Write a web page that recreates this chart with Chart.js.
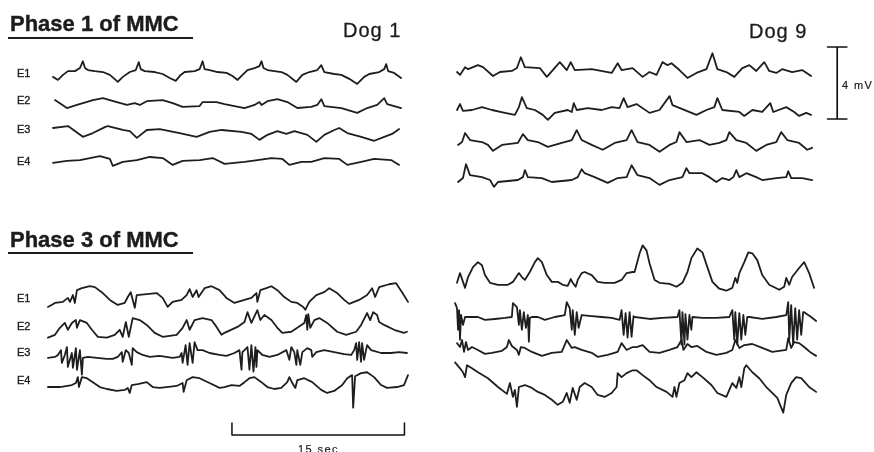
<!DOCTYPE html>
<html>
<head>
<meta charset="utf-8">
<script src="https://cdn.jsdelivr.net/npm/chart.js@4"></script>
<style>
  html, body { margin: 0; padding: 0; background: #fff; }
  #wrap { position: relative; width: 874px; height: 452px; overflow: hidden; font-family: "Liberation Sans", Arial, sans-serif; color: #1c1c1c; }
  #wrap canvas { position: absolute; left: 0; top: 0; }
  .lbl { position: absolute; white-space: nowrap; line-height: 1; }
  .title { font-size: 22px; font-weight: bold; -webkit-text-stroke: 0.4px #1c1c1c; }
  .dog { font-size: 20px; letter-spacing: 1px; -webkit-text-stroke: 0.3px #1c1c1c; }
  .ch { font-size: 11px; -webkit-text-stroke: 0.35px #1c1c1c; }
  .unit { font-size: 11px; letter-spacing: 1.4px; -webkit-text-stroke: 0.2px #1c1c1c; }
  .rule { position: absolute; height: 2px; background: #1c1c1c; }
</style>
</head>
<body>
<div id="wrap">
  <canvas id="chart" width="874" height="452"></canvas>
</div>
<script>
// channel names and scale-bar values
const channels = ["E1", "E2", "E3", "E4"];
const panelTitles = ["Phase 1 of MMC", "Phase 3 of MMC"];
const dogs = ["Dog 1", "Dog 9"];
const barMv = 4;
const barSec = 15;

// traces: [time (s), voltage (mV) relative to channel baseline]
// Dog 1, phase 1
const d1p1e1 = [[0,-0.27],[0.43,-0.44],[0.87,-0.16],[1.3,0.05],[1.91,0.05],[2.34,0.22],[2.6,0.6],[2.78,0.22],[3.04,0.11],[3.64,0.05],[4.34,0],[4.94,-0.16],[5.64,-0.55],[6.07,-0.27],[6.68,0],[7.2,0.11],[7.46,0.55],[7.63,0.16],[7.98,0.05],[8.85,0],[9.54,-0.11],[10.15,-0.33],[10.67,-0.49],[11.1,-0.16],[11.45,0],[12.32,0.05],[12.75,0.16],[13.01,0.6],[13.18,0.16],[13.62,0.11],[14.31,0],[15.09,-0.05],[15.61,-0.22],[16.05,-0.44],[16.48,-0.16],[16.91,0.11],[17.52,0.22],[17.95,0.33],[18.13,0.6],[18.3,0.22],[18.65,0.11],[19.86,0],[20.38,-0.16],[21.16,-0.55],[21.68,-0.16],[22.29,0],[22.98,0.11],[23.33,0.38],[23.59,0],[24.46,-0.11],[25.07,-0.16],[25.76,-0.38],[26.45,-0.66],[27.06,-0.27],[27.5,-0.11],[28.37,0],[28.8,0.16],[28.97,0.44],[29.14,0.05],[29.66,-0.05],[30.27,-0.33]];
const d1p1e2 = [[0.17,0.22],[1.21,-0.22],[2.08,-0.05],[2.6,0.05],[3.47,0.22],[4.34,0.33],[5.55,0.11],[6.42,-0.05],[7.11,0.05],[7.55,-0.05],[8.15,0.16],[9.54,0.22],[10.41,0.05],[11.27,-0.16],[12.75,-0.11],[13.01,0.11],[14.22,0.11],[14.92,0],[16.65,-0.22],[17.52,-0.05],[17.95,0.11],[18.13,-0.05],[18.65,0.16],[19.51,0.27],[20.38,0.11],[21.25,-0.22],[22.46,-0.16],[22.98,-0.05],[23.33,0.27],[23.59,-0.11],[25.07,-0.22],[26.45,-0.49],[27.32,-0.22],[28.19,-0.05],[28.8,0.33],[29.06,0],[30.27,-0.22]];
const d1p1e3 = [[0,0.33],[1.3,0.44],[2.6,-0.16],[3.47,0.05],[4.51,0.38],[4.77,0.44],[6.07,0.22],[6.68,0.16],[7.29,-0.22],[8.15,0.22],[9.28,0.27],[11.01,0.05],[12.49,-0.16],[13.62,0.11],[14.66,0.22],[16.39,0.11],[17.26,0],[17.95,-0.33],[18.65,-0.05],[19.51,0.16],[20.29,0],[20.99,0.16],[22.12,-0.05],[22.9,-0.44],[23.59,-0.05],[24.46,0.22],[24.89,0.33],[25.59,0.05],[26.8,-0.16],[27.93,-0.38],[28.8,-0.16],[29.49,0],[30.1,0.27]];
const d1p1e4 = [[0,-0.11],[1.21,0],[2.34,0.05],[3.21,0.16],[4.08,0.27],[4.94,0.11],[5.2,-0.27],[6.07,-0.05],[7.29,0.05],[8.41,0.22],[9.54,0.16],[10.41,-0.22],[11.27,0],[12.75,0.05],[13.88,0.16],[14.92,-0.16],[16.65,-0.05],[17.78,0.05],[18.99,0.16],[19.95,0.11],[20.55,-0.22],[21.6,-0.05],[22.46,-0.05],[23.59,0.16],[24.89,0.11],[25.59,-0.22],[26.8,-0.05],[27.93,0.11],[29.4,0.05],[30.1,-0.22]];

// Dog 9, phase 1
const d9p1e1 = [[0.17,-0.11],[0.43,-0.27],[0.87,0.16],[1.13,0.05],[1.99,0.27],[2.43,0.16],[3.3,-0.33],[3.9,-0.11],[4.94,-0.05],[5.38,0.11],[5.72,0.71],[6.07,0.16],[7.37,0.11],[7.98,-0.38],[8.5,0],[9.11,0.44],[9.71,0],[10.06,0.44],[10.41,0],[11.88,0.05],[13.27,-0.11],[13.62,-0.16],[14.14,0.38],[14.48,0],[15.44,0.11],[16.31,-0.38],[16.91,-0.11],[17.52,-0.27],[18.04,0.44],[18.47,0.27],[18.82,0.38],[19.51,0],[20.21,-0.44],[20.99,-0.16],[21.86,0.05],[22.38,0.93],[22.81,0.05],[23.59,-0.11],[24.28,-0.38],[24.98,0.11],[25.59,0.27],[26.19,-0.05],[26.89,0.44],[27.32,-0.05],[27.93,-0.16],[28.45,0.05],[29.31,-0.11],[30.18,0],[30.96,-0.33]];
const d9p1e2 = [[0.17,0],[0.43,0.33],[0.69,-0.05],[1.47,0],[2.34,0.16],[3.21,0],[4.34,-0.16],[5.2,-0.27],[5.55,0.16],[5.81,0.71],[6.24,0.11],[6.94,0],[7.63,-0.27],[8.07,-0.55],[8.67,-0.16],[9.8,0],[10.15,-0.11],[10.32,0.38],[10.58,0],[11.54,0.11],[12.75,0],[13.62,0.16],[14.31,0.11],[14.66,0.66],[15,0.16],[15.78,0.33],[16.91,-0.16],[17.78,0],[18.65,0.77],[18.91,0.27],[19.77,0.05],[20.99,-0.27],[21.86,0],[22.55,0.16],[22.81,0.66],[23.24,0],[24.72,-0.11],[25.15,-0.33],[25.85,0],[26.71,-0.11],[27.41,0.38],[27.67,-0.11],[28.8,0.16],[29.49,-0.11],[29.92,-0.33],[30.53,-0.16],[30.96,-0.27]];
const d9p1e3 = [[0.26,-0.11],[0.61,0.05],[0.87,0.55],[1.3,0.16],[2.34,0.05],[2.86,-0.11],[3.3,-0.44],[4.08,-0.11],[5.46,0],[5.9,0.49],[6.33,0.16],[7.2,0.05],[8.07,-0.22],[9.28,0],[10.15,0.16],[10.58,0.71],[11.01,0.16],[11.88,-0.11],[12.84,-0.38],[13.88,0],[14.92,0.16],[15.35,0.71],[15.87,0.05],[16.91,-0.11],[17.78,-0.49],[18.65,-0.11],[19.25,0.05],[19.51,0.6],[20.12,0.05],[21.25,0.16],[22.12,-0.11],[22.98,0],[23.59,0.16],[23.85,0.6],[24.46,0.16],[25.33,0],[26.19,-0.44],[27.06,-0.11],[27.93,0.05],[28.36,0.6],[28.89,0.16],[29.92,0],[30.62,-0.38],[31.05,-0.27]];
const d9p1e4 = [[0.26,-0.22],[0.69,0],[0.95,0.77],[1.3,0.16],[2.34,0.05],[3.04,-0.11],[3.38,-0.49],[3.73,-0.22],[5.46,-0.11],[5.9,0.05],[6.07,0.44],[6.33,0.05],[7.55,0],[8.41,-0.22],[10.15,-0.11],[10.67,0.05],[11.01,0.49],[11.27,0.27],[12.14,0.05],[13.27,-0.27],[14.14,0],[14.92,0.05],[15.35,0.71],[15.87,0.16],[16.91,0],[17.78,-0.38],[18.65,-0.11],[19.77,0.05],[20.12,0.55],[20.38,0.27],[21.51,0.27],[22.12,0.05],[22.72,-0.22],[23.24,0],[23.85,-0.11],[24.2,0.05],[24.46,0.44],[24.72,0.05],[25.33,0.27],[26.19,0.05],[26.71,-0.11],[27.93,0],[28.8,0.05],[28.97,0.38],[29.23,0],[30.18,0],[31.05,-0.11]];

// Dog 1, phase 3
const d1p3e1 = [[0,-0.66],[0.61,-0.44],[1.3,-0.38],[1.73,-0.16],[1.91,-0.38],[2.17,0],[2.34,-0.44],[2.52,0.27],[2.95,0.38],[3.64,0.49],[4.08,0.44],[4.77,0.11],[5.38,-0.27],[6.07,-0.55],[6.68,-0.44],[6.94,-0.11],[7.2,0.16],[7.55,-0.71],[7.72,0],[8.59,0.05],[9.45,0.11],[9.97,-0.16],[10.41,-0.66],[10.84,-0.38],[11.62,-0.27],[12.06,0],[12.32,0.33],[12.58,-0.11],[12.92,0.27],[13.1,-0.11],[13.62,0.38],[14.22,0.49],[14.92,0.27],[15.52,-0.16],[16.22,-0.44],[17.09,-0.27],[17.69,-0.16],[18.13,0.11],[18.21,-0.38],[18.47,0.27],[18.99,0.38],[19.43,0.49],[19.95,0.27],[20.55,-0.11],[21.16,-0.38],[21.68,-0.44],[22.2,-0.66],[22.38,-0.82],[22.72,-0.38],[23.33,0],[24.02,0.16],[24.46,0.38],[25.15,0.11],[25.76,-0.27],[26.19,-0.49],[27.06,-0.27],[27.75,0],[28.19,0.38],[28.45,-0.11],[28.8,0.44],[29.66,0.6],[30.27,0.66],[30.79,0.16],[31.31,-0.38]];
const d1p3e2 = [[0,-0.71],[0.61,-0.55],[1.04,-0.16],[1.47,0.11],[1.73,-0.27],[2.08,0.11],[2.43,0.27],[2.52,-0.16],[2.78,0.27],[3.38,0.11],[3.82,-0.27],[4.34,-0.66],[5.12,-0.71],[5.81,-0.55],[6.24,-0.27],[6.5,-0.66],[6.77,0.16],[7.03,-0.66],[7.37,0.38],[7.98,0.27],[8.59,0],[9.28,-0.44],[9.97,-0.66],[11.19,-0.55],[11.71,-0.16],[12.06,0.27],[12.32,-0.27],[12.75,0.27],[13.44,0.38],[14.22,0.27],[14.66,-0.11],[15.09,-0.55],[15.35,-0.44],[16.48,-0.11],[17.09,0.16],[17.35,0.71],[17.69,0.11],[18.21,0.82],[18.47,0.27],[18.82,0.55],[19.43,0.27],[19.95,-0.16],[20.38,-0.44],[21.16,-0.38],[21.68,-0.16],[22.29,0.11],[22.46,0.55],[22.55,-0.27],[22.64,0.6],[22.81,-0.16],[23.16,0.27],[23.59,0.38],[24.28,0.11],[25.15,-0.38],[25.93,-0.55],[26.8,-0.38],[27.23,0],[27.75,0.66],[28.02,0.27],[28.28,0.71],[28.62,0.55],[28.8,0.16],[29.23,0],[30.1,-0.27],[30.96,-0.44],[31.22,-0.38]];
const d1p3e3 = [[0,-0.16],[0.61,-0.11],[0.87,0],[1.13,0.27],[1.21,-0.44],[1.47,0],[1.65,0.44],[1.73,-0.66],[2.08,0.11],[2.17,-0.71],[2.43,0.38],[2.52,-0.82],[2.78,0.27],[2.95,-1.1],[3.04,-0.16],[3.47,-0.11],[4.25,-0.16],[5.12,-0.22],[5.64,-0.22],[6.07,-0.11],[6.42,0.16],[6.5,-0.38],[6.77,0.27],[7.03,0.11],[7.29,-0.55],[7.37,0.38],[7.72,0.16],[8.24,0],[8.85,-0.11],[9.71,-0.05],[10.84,-0.16],[11.45,-0.11],[11.62,0.11],[11.71,-0.44],[11.97,0.55],[12.14,-0.55],[12.32,0.66],[12.58,-0.44],[12.75,0.71],[13.01,0.27],[13.44,0.27],[14.05,0.11],[14.92,0],[15.52,-0.05],[16.22,0.11],[16.65,0.27],[16.83,-0.82],[16.91,0.16],[17.35,0.44],[17.52,-0.82],[17.69,0.55],[17.87,-0.93],[18.04,0.44],[18.13,-0.66],[18.21,0.27],[18.65,0],[19.25,-0.11],[19.95,0],[20.73,0.27],[20.99,-0.27],[21.16,0.44],[21.42,0.16],[21.6,-0.55],[21.68,0.27],[21.94,-0.55],[22.12,0.16],[22.55,0.38],[22.9,0.27],[22.98,-0.11],[23.33,0.16],[24.02,0.27],[24.89,0.16],[25.76,0.05],[26.37,0],[26.63,0.27],[26.8,0.66],[26.89,-0.27],[27.06,0.71],[27.23,-0.38],[27.32,0.66],[27.49,-0.27],[27.75,0.55],[28.1,0.27],[28.97,0.11],[29.83,0.11],[30.53,0.16],[31.22,0.11]];
const d1p3e4 = [[0,-0.11],[1.04,-0.11],[2.08,0],[2.43,0.11],[2.6,0.44],[2.69,-0.11],[2.95,0.44],[3.38,0.38],[3.9,0.16],[4.51,-0.11],[5.12,-0.22],[5.98,-0.33],[6.68,-0.27],[6.94,-0.16],[7.11,-0.44],[7.29,0],[7.81,0.05],[8.59,0.16],[9.11,-0.11],[9.71,-0.16],[10.32,-0.11],[11.19,-0.05],[11.71,0.11],[11.8,-0.38],[12.06,0.27],[12.58,0.44],[13.18,0.38],[14.05,0.11],[14.92,-0.16],[15.35,-0.11],[15.96,0],[16.65,-0.05],[17.09,0.16],[17.52,0.38],[17.95,0.44],[18.56,0.16],[19.08,-0.11],[19.69,-0.22],[20.29,-0.16],[20.81,0.16],[20.99,0.44],[21.25,0.11],[21.51,-0.16],[21.68,0.27],[22.29,0.38],[22.98,0.16],[23.76,-0.27],[24.28,-0.44],[24.89,-0.33],[25.59,0],[26.02,0.38],[26.45,0.55],[26.54,-1.26],[26.71,0.49],[27.23,0.66],[27.75,0.71],[28.36,0.44],[28.97,0],[29.49,-0.16],[30.36,-0.11],[30.96,0],[31.31,0.55]];

// Dog 9, phase 3
const d9p3e1 = [[0.17,-0.16],[0.43,0.38],[0.69,-0.11],[0.87,-0.44],[1.13,0.16],[1.56,0.71],[1.99,0.99],[2.34,0.82],[2.6,0.27],[3.04,-0.16],[3.73,-0.27],[4.6,-0.27],[5.03,-0.11],[5.55,0.38],[5.81,0.16],[6.07,0],[6.5,0.44],[6.94,0.99],[7.2,1.21],[7.55,0.99],[7.98,0.27],[8.41,-0.11],[8.93,-0.11],[9.37,-0.27],[9.8,-0.33],[10.06,0.05],[10.23,-0.16],[10.49,-0.38],[10.67,0],[11.01,0.38],[11.27,0.44],[11.88,0.27],[12.4,-0.11],[13.01,-0.16],[13.88,-0.16],[14.48,0],[14.92,0.38],[15.44,0.44],[15.61,0.44],[16.05,1.48],[16.31,1.92],[16.65,1.64],[16.91,0.93],[17.35,0],[17.78,-0.16],[18.65,-0.22],[19.25,-0.38],[19.77,-0.16],[20.21,0.44],[20.55,1.21],[21.07,1.75],[21.51,1.53],[21.94,0.71],[22.38,-0.11],[22.98,-0.49],[23.59,-0.6],[24.11,-0.44],[24.37,0.11],[24.54,-0.16],[24.72,0.38],[25.15,0.99],[25.5,1.53],[25.85,1.48],[26.28,1.1],[26.71,0.27],[27.32,-0.27],[28.19,-0.55],[28.62,-0.38],[28.8,0.11],[29.06,-0.27],[29.31,0.16],[29.92,0.66],[30.36,0.99],[30.79,0.38],[31.22,-0.44]];
const d9p3e2 = [[0,0.77],[0.17,0.49],[0.26,-0.71],[0.35,0.38],[0.43,-1.26],[0.52,0.11],[0.69,-0.44],[0.87,0],[1.13,0],[1.99,0],[2.6,-0.16],[3.47,-0.11],[4.34,-0.05],[4.94,0],[5.03,0.77],[5.38,0.55],[5.55,-0.44],[5.64,0.38],[5.81,-0.71],[5.98,0.27],[6.16,-0.6],[6.33,0.11],[6.42,-1.37],[6.5,-0.05],[6.68,0],[7.2,0],[7.81,-0.16],[8.67,0],[9.54,0.11],[9.71,0.82],[9.97,0.49],[10.15,-0.71],[10.23,0.38],[10.41,-0.99],[10.58,0.27],[10.75,-0.6],[11.01,0.11],[11.88,0.05],[12.75,0],[13.62,-0.05],[14.31,-0.16],[14.48,0.38],[14.66,-0.99],[14.83,0.22],[15,-1.15],[15.18,0.27],[15.35,-1.1],[15.52,0.05],[15.61,0],[16.91,-0.11],[18.04,-0.05],[19.34,0],[19.51,0.38],[19.69,-1.53],[19.77,0.27],[19.95,-1.53],[20.03,0.16],[20.21,-1.26],[20.38,0.11],[20.55,-0.71],[20.64,0],[21.51,-0.05],[22.72,-0.05],[23.85,0],[24.11,0.38],[24.28,-1.26],[24.37,0.27],[24.54,-1.53],[24.72,0.22],[24.89,-1.26],[25.07,0.11],[25.24,-0.99],[25.41,0],[25.59,0],[26.71,-0.11],[27.93,0],[28.8,0.11],[28.97,0.82],[29.06,-1.26],[29.23,0.66],[29.4,-1.53],[29.58,0.49],[29.75,-1.26],[29.92,0.38],[30.1,-0.99],[30.27,0.27],[30.36,0.27],[30.96,0],[31.4,-0.22]];
const d9p3e3 = [[0.17,0.38],[0.43,0.16],[0.61,0.55],[0.78,-0.11],[0.95,0.44],[1.13,0],[1.47,0.16],[1.99,0],[2.6,-0.22],[3.21,-0.16],[4.08,-0.05],[4.51,0.16],[4.68,0.55],[4.94,0.22],[5.38,0],[5.55,-0.27],[5.72,0.16],[6.07,0.11],[6.68,-0.11],[7.55,-0.33],[8.41,-0.16],[9.28,-0.11],[9.71,0.55],[10.15,0.11],[10.41,0.16],[11.01,0],[11.88,-0.16],[12.4,-0.38],[13.27,-0.27],[14.14,-0.11],[14.48,0.38],[14.92,0],[15.44,0.16],[15.78,0.16],[16.31,0.27],[16.91,-0.11],[17.78,-0.16],[18.65,0],[19.34,0.16],[19.69,0.55],[19.86,0],[20.21,0.33],[20.55,0.16],[21.07,0.22],[21.86,-0.11],[22.72,-0.27],[23.59,-0.16],[24.11,0],[24.37,0.55],[24.72,0.11],[25.15,0.27],[25.85,0.33],[26.71,0.11],[27.58,-0.11],[28.8,0],[28.97,0.66],[29.23,0.11],[29.49,0.44],[29.92,0.38],[30.36,0.16],[30.96,-0.16],[31.4,-0.33]];
const d9p3e4 = [[0,1.26],[0.43,0.93],[0.69,0.71],[0.87,0.44],[1.04,1.1],[1.47,0.93],[1.99,0.71],[2.86,0.38],[3.73,-0.11],[4.51,-0.49],[4.77,0.11],[5.03,-0.66],[5.2,-0.27],[5.38,-1.21],[5.55,-0.11],[6.07,0],[6.68,-0.16],[7.2,-0.38],[7.81,-0.55],[8.41,-0.82],[8.93,-1.1],[9.37,-0.93],[9.71,-0.44],[9.97,-0.99],[10.23,-0.16],[10.58,-0.82],[10.84,-0.11],[11.27,0.11],[11.88,-0.11],[12.4,-0.55],[13.01,-0.66],[13.62,-0.44],[14.05,-0.11],[14.14,0.66],[14.48,0.44],[14.92,0.66],[15.44,0.82],[15.78,0.82],[16.31,0.55],[16.91,0.27],[17.52,-0.11],[18.39,-0.38],[18.91,-0.66],[19.08,-0.11],[19.25,-0.66],[19.51,0.11],[19.95,0.27],[20.21,0.66],[20.55,0.44],[20.99,0.71],[21.51,0.44],[22.29,0],[22.81,-0.44],[23.59,-0.66],[23.85,-0.27],[24.11,0.11],[24.46,-0.16],[24.72,0.44],[24.89,-0.11],[25.15,0.93],[25.33,1.1],[25.85,0.71],[26.45,0.38],[27.06,-0.11],[27.58,-0.44],[28.02,-0.71],[28.54,-1.53],[28.8,-0.55],[29.23,0.11],[29.66,0.44],[30.1,0.38],[30.79,-0.11],[31.4,-0.38]];

// layout: where each panel starts (s) and the baseline of each channel (mV) on the page
const PX_PER_SEC = 11.5;
const PX_PER_MV = 18;
const W = 874;
const H = 452;

const panels = [
  { traces: [d1p1e1, d1p1e2, d1p1e3, d1p1e4], start: 4.61, bases: [21.11, 19.33, 17.67, 16.17] },
  { traces: [d9p1e1, d9p1e2, d9p1e3, d9p1e4], start: 39.57, bases: [21.22, 19.0, 17.17, 15.22] },
  { traces: [d1p3e1, d1p3e2, d1p3e3, d1p3e4], start: 4.17, bases: [8.72, 7.06, 5.39, 3.72] },
  { traces: [d9p3e1, d9p3e2, d9p3e3, d9p3e4], start: 39.57, bases: [9.56, 7.5, 5.67, 3.72] },
];

const mvBarAt = { x: 72.8, y: 18.5, cap: 0.83 };
const secBarAt = { x: 20.17, y: 0.94, tick: 0.67 };

function traceSet(points, start, base) {
  return {
    data: points.map(([t, v]) => ({ x: start + t, y: base + v })),
    borderColor: "#1e1e1e",
    borderWidth: 1.8,
  };
}

const datasets = [];
for (const panel of panels) {
  panel.traces.forEach((points, i) => {
    datasets.push(traceSet(points, panel.start, panel.bases[i]));
  });
}

// 4 mV bar (I shape) and 15 sec bar (bracket)
const m = mvBarAt;
datasets.push({
  data: [
    { x: m.x - m.cap, y: m.y }, { x: m.x + m.cap, y: m.y }, { x: m.x, y: null },
    { x: m.x, y: m.y }, { x: m.x, y: m.y + barMv }, { x: m.x, y: null },
    { x: m.x - m.cap, y: m.y + barMv }, { x: m.x + m.cap, y: m.y + barMv },
  ],
  borderColor: "#111",
  borderWidth: 1.7,
});
const s = secBarAt;
datasets.push({
  data: [
    { x: s.x, y: s.y + s.tick }, { x: s.x, y: s.y },
    { x: s.x + barSec, y: s.y }, { x: s.x + barSec, y: s.y + s.tick },
  ],
  borderColor: "#111",
  borderWidth: 1.5,
});

new Chart(document.getElementById("chart"), {
  type: "scatter",
  data: { datasets },
  options: {
    responsive: false,
    animation: false,
    devicePixelRatio: 1,
    showLine: true,
    spanGaps: false,
    layout: { padding: 0 },
    elements: {
      point: { radius: 0, hoverRadius: 0 },
      line: { tension: 0, borderJoinStyle: "round", borderCapStyle: "round" },
    },
    plugins: { legend: { display: false }, tooltip: { enabled: false } },
    scales: {
      x: { type: "linear", display: false, min: 0, max: W / PX_PER_SEC },
      y: { type: "linear", display: false, min: 0, max: H / PX_PER_MV },
    },
  },
});

// text labels
const wrap = document.getElementById("wrap");
function addLabel(text, cls, left, top) {
  const el = document.createElement("div");
  el.className = "lbl " + cls;
  el.textContent = text;
  el.style.left = left + "px";
  el.style.top = top + "px";
  wrap.appendChild(el);
}
function addRule(left, top, width) {
  const el = document.createElement("div");
  el.className = "rule";
  el.style.left = left + "px";
  el.style.top = top + "px";
  el.style.width = width + "px";
  wrap.appendChild(el);
}

addLabel(panelTitles[0], "title", 10, 13);
addRule(8, 37, 185);
addLabel(panelTitles[1], "title", 10, 229);
addRule(8, 252, 185);
addLabel(dogs[0], "dog", 343, 20);
addLabel(dogs[1], "dog", 749, 21);

const chTopsP1 = [68, 95, 124, 156];
const chTopsP3 = [293, 321, 347, 375];
channels.forEach((name, i) => {
  addLabel(name, "ch", 17, chTopsP1[i]);
  addLabel(name, "ch", 17, chTopsP3[i]);
});

addLabel(barMv + " mV", "unit", 842, 80);
addLabel(barSec + " sec", "unit", 298, 444);
</script>
</body>
</html>
